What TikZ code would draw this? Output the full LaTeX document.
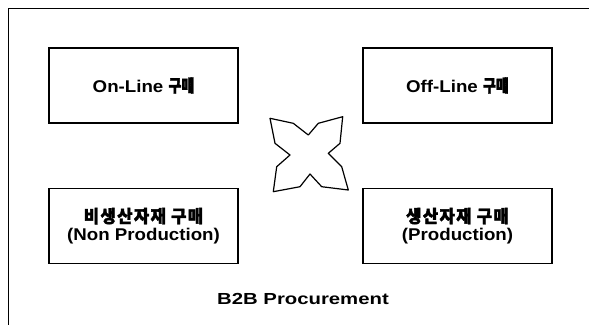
\documentclass[tikz,border=0pt]{standalone}
\usepackage{fontspec}
\setmainfont{Liberation Sans}[FakeStretch=1.1]
\newfontfamily\wide{Liberation Sans}[FakeStretch=1.27]
\newfontfamily\kr{Noto Sans CJK KR}[FakeStretch=0.8,FakeBold=2]
\newfontfamily\krw{Noto Sans CJK KR}[FakeStretch=0.95,FakeBold=2,LetterSpace=8]
\newcommand{\ko}[1]{{\fontsize{17.5}{19}\kr #1}}
\newcommand{\kow}[1]{{\fontsize{17.5}{19}\krw #1}}
\begin{document}
\begin{tikzpicture}[x=1pt,y=-1pt,
  box/.style={draw=black,line width=1.1pt,minimum width=189pt,minimum height=75pt,inner sep=0pt,align=center,font=\fontsize{17}{19}\selectfont\bfseries},
  frame/.style={draw=black,line width=1pt},
  star/.style={draw=black,line width=1.2pt,line join=round}]
\useasboundingbox (0,0) rectangle (589,325);
\draw[frame] (589,8) -- (8,8) -- (8,325);
\node[box] (ol) at (143.5,85.5) {On-Line \ko{구매}};
\node[box] (fl) at (457.5,85.5) {Off-Line \ko{구매}};
\node[box] (np) at (143.5,226) {\kow{비생산자재 구매}\\[-1pt](Non Production)};
\node[box] (pr) at (457.5,226) {\kow{생산자재 구매}\\[-1pt](Production)};
\draw[star] (270,118.3) -- (293.3,123.3) -- (308.3,135) -- (318.3,123.3) -- (342.7,116.7)
  -- (340,143.3) -- (328.3,153.3) -- (341.7,166.7) -- (348.3,190) -- (321.7,186.7)
  -- (310,174) -- (300,186.7) -- (273.3,191.7) -- (276.7,166.7) -- (290,155)
  -- (275,143.3) -- cycle;
\node[font=\fontsize{16}{18}\selectfont\wide\bfseries] (title) at (303,298.5) {B2B Procurement};
\end{tikzpicture}
\end{document}
